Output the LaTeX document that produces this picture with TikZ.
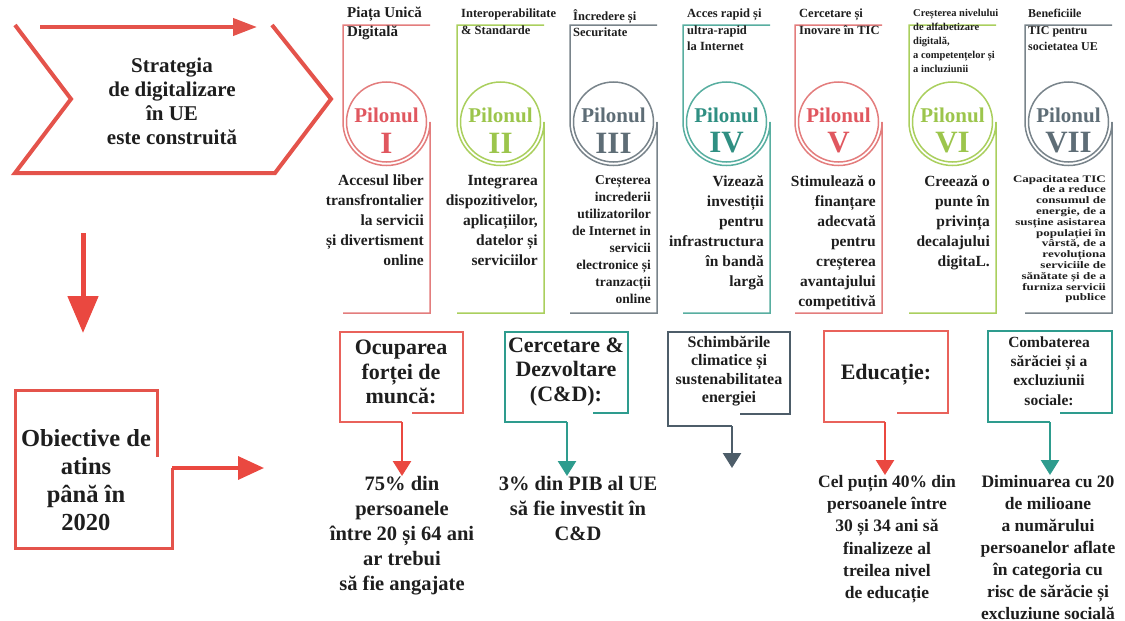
\documentclass[tikz,border=0pt]{standalone}
\usepackage{fontspec}
\setmainfont{Liberation Serif}
\newfontfamily\widefont[FakeStretch=1.3]{Liberation Serif}
\usetikzlibrary{arrows.meta}
\definecolor{chevred}{HTML}{E4534B}
\definecolor{arrred}{HTML}{EA4840}
\definecolor{pilred}{HTML}{E37D7D}
\definecolor{pilredT}{HTML}{E0575F}
\definecolor{pilgreen}{HTML}{AACF5E}
\definecolor{pilgreenT}{HTML}{9CC54C}
\definecolor{pilslate}{HTML}{79848B}
\definecolor{pilslateT}{HTML}{5E6D76}
\definecolor{pilteal}{HTML}{58AEA0}
\definecolor{piltealT}{HTML}{2F8F82}
\definecolor{boxred}{HTML}{E9625B}
\definecolor{boxteal}{HTML}{2E9C8E}
\definecolor{boxslate}{HTML}{4D5D69}
\definecolor{ink}{HTML}{1E1E1E}
\tikzset{
  chev/.style={draw=chevred, line width=4pt},
  obox/.style={draw=chevred, line width=3pt},
  frame/.style={line width=1.5pt},
  pcirc/.style={draw, shape=circle, line width=1.5pt, minimum size=80, inner sep=0pt},
  pil/.style={inner sep=0pt, font=\fontsize{21}{21}\selectfont\bfseries},
  num/.style={inner sep=0pt, font=\fontsize{31}{31}\selectfont\bfseries},
  hdr/.style={anchor=north west, inner sep=0pt, align=left, text=ink, font=\fontsize{12.5}{16.5}\selectfont\bfseries},
  body/.style={anchor=north east, inner sep=0pt, align=right, text=ink, font=\fontsize{15.5}{20}\selectfont\bfseries},
  big/.style={inner sep=0pt, align=center, text=ink, font=\fontsize{21}{24}\selectfont\bfseries},
  goal/.style={inner sep=0pt, align=center, text=ink, font=\fontsize{22}{24.5}\selectfont\bfseries},
  res/.style={anchor=north, inner sep=0pt, align=center, text=ink, font=\fontsize{20.5}{25}\selectfont\bfseries},
  gbox/.style={line width=2.6pt},
  garrow/.style={line width=2.6pt, -{Triangle[width=18pt,length=15pt]}}
}
\begin{document}
\begin{tikzpicture}[x=1pt,y=-1pt]
\useasboundingbox (0,0) rectangle (1125,621);

\draw[chev] (272,25) -- (331,99) -- (275,173) -- (15,173) -- (71,99) -- (15,25);
\coordinate (SA) at (40,27);
\coordinate (SB) at (257,27);
\draw[chev,-{Triangle[width=17pt,length=24pt]}] (SA) -- (SB);
\node[big] (ST) at (172,101) {Strategia\\de digitalizare\\în UE\\este construită};

\coordinate (DA) at (83,233);
\coordinate (DB) at (83,333);
\draw[draw=arrred,line width=5pt,-{Triangle[width=30pt,length=37pt]}] (DA) -- (DB);

\draw[obox] (157,457) -- (157,390) -- (15,390) -- (15,548) -- (172,548) -- (172,468);
\coordinate (OA) at (172,468);
\coordinate (OC) at (264,468);
\draw[draw=arrred,line width=3.5pt,-{Triangle[width=23pt,length=26pt]}] (OA) -- (OC);
\node[big,font=\fontsize{24.5}{28}\selectfont\bfseries] (OB) at (86,480) {Obiective de\\atins\\până în\\2020};

\draw[frame,pilred] (430,25) -- (343,25) -- (343,122) arc[start angle=180,end angle=0,radius=43.5] -- (430,313) -- (343,313);
\node[pcirc,draw=pilred] (PA) at (386.5,122) {};
\node[pil,text=pilredT] (LA) at (386.5,115) {Pilonul};
\node[num,text=pilredT] (NA) at (386.5,143) {I};
\node[hdr,font=\fontsize{15}{19}\selectfont\bfseries] (HA) at (347,7) {Piața Unică\\Digitală};
\node[body] (TA) at (424,175) {Accesul liber\\transfrontalier\\la servicii\\și divertisment\\online};

\draw[frame,pilgreen] (544,25) -- (457,25) -- (457,122) arc[start angle=180,end angle=0,radius=43.5] -- (544,313) -- (457,313);
\node[pcirc,draw=pilgreen] (PB) at (500.5,122) {};
\node[pil,text=pilgreenT] (LB) at (500.5,115) {Pilonul};
\node[num,text=pilgreenT] (NB) at (500.5,143) {II};
\node[hdr] (HB) at (461,9) {Interoperabilitate\\\& Standarde};
\node[body] (TB) at (538,175) {Integrarea\\dispozitivelor,\\aplicațiilor,\\datelor și\\serviciilor};

\draw[frame,pilslate] (657,25) -- (570,25) -- (570,122) arc[start angle=180,end angle=0,radius=43.5] -- (657,313) -- (570,313);
\node[pcirc,draw=pilslate] (PC) at (613.5,122) {};
\node[pil,text=pilslateT] (LC) at (613.5,115) {Pilonul};
\node[num,text=pilslateT] (NC) at (613.5,143) {III};
\node[hdr] (HC) at (573,9) {Încredere și\\Securitate};
\node[body,font=\fontsize{13.5}{17}\selectfont\bfseries] (TC) at (651,175) {Creșterea\\increderii\\utilizatorilor\\de Internet in\\servicii\\electronice și\\tranzacții\\online};

\draw[frame,pilteal] (770,25) -- (683,25) -- (683,122) arc[start angle=180,end angle=0,radius=43.5] -- (770,313) -- (683,313);
\node[pcirc,draw=pilteal] (PD) at (726.5,122) {};
\node[pil,text=piltealT] (LD) at (726.5,115) {Pilonul};
\node[num,text=piltealT] (ND) at (726.5,143) {IV};
\node[hdr] (HD) at (687,9) {Acces rapid și\\ultra-rapid\\la Internet};
\node[body] (TD) at (764,175) {Vizează\\investiții\\pentru\\infrastructura\\în bandă\\largă};

\draw[frame,pilred] (882,25) -- (795,25) -- (795,122) arc[start angle=180,end angle=0,radius=43.5] -- (882,313) -- (795,313);
\node[pcirc,draw=pilred] (PE) at (838.5,122) {};
\node[pil,text=pilredT] (LE) at (838.5,115) {Pilonul};
\node[num,text=pilredT] (NE) at (838.5,143) {V};
\node[hdr] (HE) at (799,9) {Cercetare și\\Inovare în TIC};
\node[body] (TE) at (876,175) {Stimulează o\\finanțare\\adecvată\\pentru\\creșterea\\avantajului\\competitivă};

\draw[frame,pilgreen] (996,25) -- (909,25) -- (909,122) arc[start angle=180,end angle=0,radius=43.5] -- (996,313) -- (909,313);
\node[pcirc,draw=pilgreen] (PF) at (952.5,122) {};
\node[pil,text=pilgreenT] (LF) at (952.5,115) {Pilonul};
\node[num,text=pilgreenT] (NF) at (952.5,143) {VI};
\node[hdr,font=\fontsize{10.5}{14}\selectfont\bfseries] (HF) at (913,9) {Creșterea nivelului\\de alfabetizare\\digitală,\\a competențelor și\\a incluziunii};
\node[body] (TF) at (990,175) {Creează o\\punte în\\privința\\decalajului\\digitaL.};

\draw[frame,pilslate] (1112,25) -- (1025,25) -- (1025,122) arc[start angle=180,end angle=0,radius=43.5] -- (1112,313) -- (1025,313);
\node[pcirc,draw=pilslate] (PG) at (1068.5,122) {};
\node[pil,text=pilslateT] (LG) at (1068.5,115) {Pilonul};
\node[num,text=pilslateT] (NG) at (1068.5,143) {VII};
\node[hdr,font=\fontsize{12}{16.5}\selectfont\bfseries] (HG) at (1028,9) {Beneficiile\\TIC pentru\\societatea UE};
\node[body,font=\widefont\fontsize{10}{10.8}\selectfont\bfseries] (TG) at (1106,175) {Capacitatea TIC\\de a reduce\\consumul de\\energie, de a\\susține asistarea\\populației în\\vârstă, de a\\revoluționa\\serviciile de\\sănătate și de a\\furniza servicii\\publice};

\draw[gbox,boxred] (412,413) -- (463,413) -- (463,332) -- (340,332) -- (340,422) -- (402,422);
\node[goal] (GA) at (401,372) {Ocuparea\\forței de\\muncă:};
\coordinate (CA) at (402,422);
\node[res] (RA) at (402,476) {75\% din\\persoanele\\între 20 și 64 ani\\ar trebui\\să fie angajate};
\draw[garrow,arrred] (CA) -- (CA |- RA.north);

\draw[gbox,boxteal] (593,413) -- (628,413) -- (628,332) -- (505,332) -- (505,422) -- (567,422);
\node[goal] (GB) at (566,372) {Cercetare \&\\Dezvoltare\\(C\&D):};
\coordinate (CB) at (567,422);
\node[res] (RB) at (578,476) {3\% din PIB al UE\\să fie investit în\\C\&D};
\draw[garrow,boxteal] (CB) -- (CB |- RB.north);

\draw[gbox,boxslate] (740,414) -- (790,414) -- (790,332) -- (668,332) -- (668,426) -- (732,426);
\node[goal,font=\fontsize{16}{18.5}\selectfont\bfseries] (GC) at (729,371) {Schimbările\\climatice și\\sustenabilitatea\\energiei};
\coordinate (CC) at (732,426);
\coordinate (CD) at (732,468);
\draw[garrow,boxslate] (CC) -- (CD);

\draw[gbox,boxred] (897,413) -- (948,413) -- (948,331) -- (824,331) -- (824,422) -- (885,422);
\node[goal] (GD) at (886,375) {Educație:};
\coordinate (CE) at (885,422);
\node[res,font=\fontsize{17.5}{22.3}\selectfont\bfseries] (RD) at (887,475) {Cel puțin 40\% din\\persoanele între\\30 și 34 ani să\\finalizeze al\\treilea nivel\\de educație};
\draw[garrow,arrred] (CE) -- (CE |- RD.north);

\draw[gbox,boxteal] (1060,413) -- (1112,413) -- (1112,331) -- (988,331) -- (988,422) -- (1050,422);
\node[goal,font=\fontsize{15.5}{19.3}\selectfont\bfseries] (GE) at (1049,371) {Combaterea\\sărăciei și a\\excluziunii\\sociale:};
\coordinate (CF) at (1050,422);
\node[res,font=\fontsize{17.5}{22}\selectfont\bfseries] (RE) at (1048,475) {Diminuarea cu 20\\de milioane\\a numărului\\persoanelor aflate\\în categoria cu\\risc de sărăcie și\\excluziune socială};
\draw[garrow,boxteal] (CF) -- (CF |- RE.north);
\end{tikzpicture}
\end{document}
